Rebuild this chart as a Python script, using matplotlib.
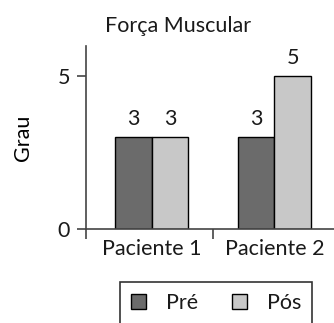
import matplotlib.pyplot as plt
import numpy as np

patients = ['Paciente 1', 'Paciente 2']
pre = [3, 3]
pos = [3, 5]
series_names = ['Pré', 'Pós']

plt.rcParams['font.family'] = ['Lato', 'DejaVu Sans']
plt.rcParams['text.color'] = '#1a1a1a'
plt.rcParams['xtick.labelcolor'] = '#1a1a1a'
plt.rcParams['ytick.labelcolor'] = '#1a1a1a'
FS = 15.5

fig = plt.figure(figsize=(3.34, 3.23), dpi=100)
ax = fig.add_axes([0.2575, 0.291, 0.7425, 0.567])

x = np.arange(len(patients))
w = 0.3
b1 = ax.bar(x - w / 2, pre, w, color='#6b6b6b', edgecolor='black', linewidth=1, label=series_names[0])
b2 = ax.bar(x + w / 2, pos, w, color='#c8c8c8', edgecolor='black', linewidth=1, label=series_names[1])

for bars in (b1, b2):
    for r in bars:
        ax.annotate(str(int(r.get_height())), (r.get_x() + r.get_width() / 2, r.get_height()),
                    xytext=(0, 6), textcoords='offset points', ha='center', va='bottom', fontsize=FS)

ax.set_xlim(-0.535, 1.486)
ax.set_ylim(0, 6)
ax.set_yticks([0, 5])
ax.set_xticks(x)
ax.set_xticklabels(patients)
ax.set_xticks([-0.535, 0.5], minor=True)

for s in ['top', 'right']:
    ax.spines[s].set_visible(False)
for s in ['left', 'bottom']:
    ax.spines[s].set_color('#444444')
    ax.spines[s].set_linewidth(1.2)

ax.tick_params(axis='y', length=6.5, width=1.2, color='#444444', labelsize=FS, pad=5)
ax.tick_params(axis='x', which='major', length=0, labelsize=FS, pad=7)
ax.tick_params(axis='x', which='minor', length=7, width=1.2, color='#444444')

ax.set_ylabel('Grau', fontsize=FS, labelpad=18)
# title sits a bit left of the axes centre in the original
ax.set_title('Força Muscular', fontsize=FS, pad=10, x=0.37)

leg = fig.legend(handles=[b1, b2], loc='upper center', bbox_to_anchor=(216 / 334, 1 - 282 / 323),
                 ncol=2, fontsize=FS, frameon=True, fancybox=False, edgecolor='black',
                 handlelength=0.7, handleheight=0.7, handletextpad=0.9, columnspacing=1.6,
                 borderpad=0.5, borderaxespad=0)
leg.get_frame().set_linewidth(1.2)

fig.savefig('out.png', dpi=100)
